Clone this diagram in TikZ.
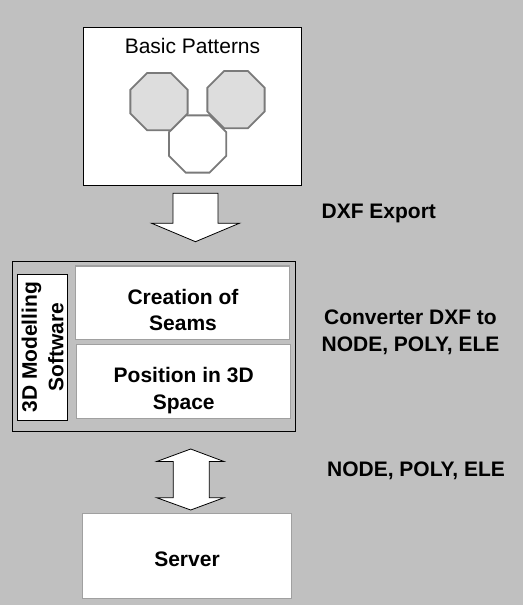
\documentclass[tikz,border=0pt]{standalone}
\usepackage{fontspec}
\setmainfont{Liberation Sans}
\usetikzlibrary{shapes.geometric}
\definecolor{panel}{HTML}{C0C0C0}
\definecolor{octfill}{HTML}{DDDDDD}
\definecolor{octline}{HTML}{7A7A7A}
\definecolor{boxline}{HTML}{A0A0A0}
\tikzset{
	box/.style={draw,rectangle,fill=white,inner sep=0pt},
	outerbox/.style={box,draw=black,line width=1pt},
	stepbox/.style={box,draw=boxline,line width=1.4pt},
	oct/.style={draw=octline,line width=1.8pt,regular polygon,regular polygon sides=8,minimum size=62pt,inner sep=0pt},
	note/.style={align=center,inner sep=0pt,font=\fontsize{21}{26.5}\selectfont\bfseries},
	blockarrow/.style={draw=black,fill=white,line width=0.8pt,line join=miter}
}
\begin{document}
\begin{tikzpicture}[x=1pt,y=-1pt]
			\fill[panel] (0,0) rectangle (523,605);
			\useasboundingbox (0,0) rectangle (523,605);
			
			\node[outerbox,minimum width=218pt,minimum height=158pt] (patterns) at (192,106) {};
			\node[inner sep=0pt,font=\fontsize{21}{24}\selectfont] (title) at (192.5,46.3) {Basic Patterns};
			\node[oct,fill=white] (octc) at (197.7,144) {};
			\node[oct,fill=octfill] (octa) at (159,101.7) {};
			\node[oct,fill=octfill] (octb) at (236,99.7) {};
			
			\draw[blockarrow] (173,193.3) -- (218,193.3) -- (218,223.3) -- (239.3,223.3) -- (195.5,241.7) -- (151.7,223.3) -- (173,223.3) -- cycle;
			\node[note] (export) at (378.8,213.9) {DXF Export};
			
			\node[outerbox,fill=panel,minimum width=283.4pt,minimum height=170pt] (software) at (154,346.7) {};
			\node[outerbox,rotate=90,minimum width=146pt,minimum height=50.4pt,align=center,font=\fontsize{21}{26.5}\selectfont\bfseries] (tool) at (42.5,347.3) {3D Modelling\\Software};
			\node[stepbox,minimum width=213.6pt,minimum height=73.3pt] (seams) at (182.5,302.7) {};
			\node[note] (seamstext) at (183,310) {Creation of\\Seams};
			\node[stepbox,minimum width=214pt,minimum height=74pt] (position) at (183.7,381.3) {};
			\node[note] (positiontext) at (183.7,390.4) {Position in 3D\\Space};
			\node[note] (converter) at (410.5,332.3) {Converter DXF to\\NODE, POLY, ELE};
			
			\draw[blockarrow] (190.7,449) -- (224,461.5) -- (209.3,461.5) -- (209.3,497.7) -- (224,497.7) -- (190.7,510) -- (156.7,497.7) -- (173.3,497.7) -- (173.3,461.5) -- (156.7,461.5) -- cycle;
			\node[note] (formats) at (416,470.9) {NODE, POLY, ELE};
			
			\node[stepbox,minimum width=208.6pt,minimum height=85pt] (server) at (187,555.8) {};
			\node[note] (servertext) at (187,559.7) {Server};
		\end{tikzpicture}
\end{document}
